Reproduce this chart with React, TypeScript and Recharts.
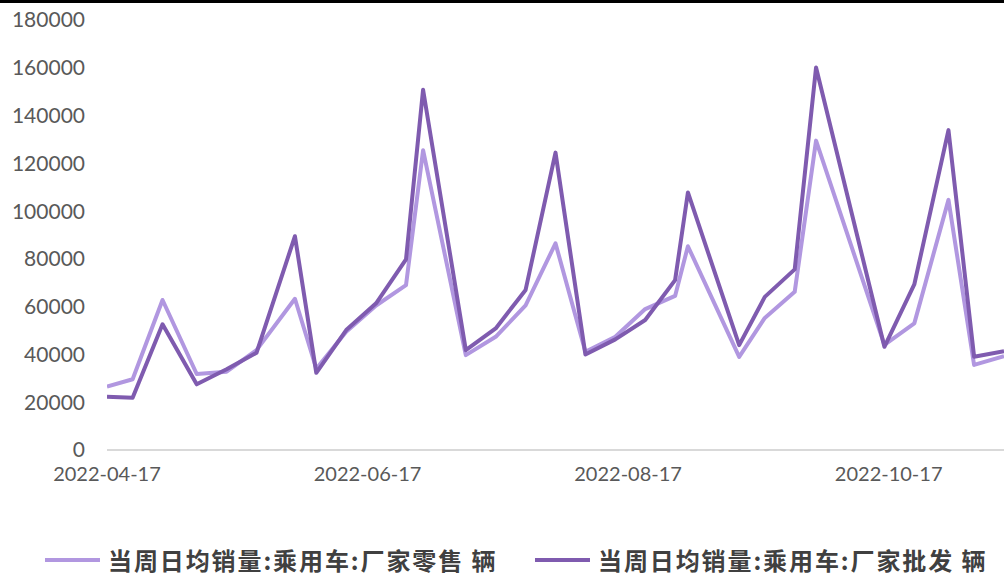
import { LineChart, Line, XAxis, YAxis } from "recharts";

// weekly period-end dates (CPCA style)
const dates = [
  "2022-04-17", "2022-04-23", "2022-04-30", "2022-05-08", "2022-05-15", "2022-05-22",
  "2022-05-31", "2022-06-05", "2022-06-12", "2022-06-19", "2022-06-26", "2022-06-30",
  "2022-07-10", "2022-07-17", "2022-07-24", "2022-07-31", "2022-08-07", "2022-08-14",
  "2022-08-21", "2022-08-28", "2022-08-31", "2022-09-12", "2022-09-18", "2022-09-25",
  "2022-09-30", "2022-10-16", "2022-10-23", "2022-10-31", "2022-11-06", "2022-11-13",
];

const retail = [
  26500, 29600, 62800, 31800, 32800, 41800, 63300, 34000, 49500, 60500, 69000, 125500,
  39700, 47400, 60500, 86500, 41100, 47400, 59000, 64500, 85300, 39000, 55300, 66200,
  129500, 44000, 53000, 104700, 35600, 39300,
];

const wholesale = [
  22300, 21900, 52600, 27500, 33800, 40700, 89500, 32300, 50200, 61400, 79800, 150800,
  41800, 50900, 67000, 124500, 40000, 46300, 54400, 71100, 107800, 43900, 64100, 75600,
  160100, 43200, 69300, 133900, 39000, 41300,
];

const yTicks = [0, 20000, 40000, 60000, 80000, 100000, 120000, 140000, 160000, 180000];
const xTicks = ["2022-04-17", "2022-06-17", "2022-08-17", "2022-10-17"];
const xStart = "2022-04-17";
const xEnd = "2022-11-13";

const series = [
  { key: "retail", name: "当周日均销量:乘用车:厂家零售 辆", color: "#B197E0" },
  { key: "wholesale", name: "当周日均销量:乘用车:厂家批发 辆", color: "#7F5BAF" },
];

const toTs = (s: string) =>
  Date.UTC(+s.slice(0, 4), +s.slice(5, 7) - 1, +s.slice(8, 10));
const fmt = (t: number) => new Date(t).toISOString().slice(0, 10);

const data = dates.map((d, i) => ({
  t: toTs(d),
  retail: retail[i],
  wholesale: wholesale[i],
}));

const xTickStyle = { fontFamily: "Lato", fontSize: 20, fill: "#595959" };
const yTickStyle = { fontFamily: "Lato", fontSize: 21, fill: "#595959" };

export default function App() {
  return (
    <div
      style={{
        position: "fixed",
        left: 0,
        top: 0,
        width: 1004,
        height: 578,
        background: "#fff",
        overflow: "hidden",
      }}
    >
      <div style={{ position: "absolute", left: 0, top: 0, width: 1004, height: 3, background: "#000" }} />
      <LineChart
        width={1004}
        height={578}
        data={data}
        margin={{ top: 20, right: 0, bottom: 88, left: 0 }}
      >
        <XAxis
          dataKey="t"
          type="number"
          domain={[toTs(xStart), toTs(xEnd)]}
          allowDataOverflow
          ticks={xTicks.map(toTs)}
          interval={0}
          tickFormatter={fmt}
          axisLine={{ stroke: "#D9D9D9", strokeWidth: 2 }}
          tickLine={false}
          tickSize={0}
          tickMargin={17}
          height={40}
          tick={xTickStyle}
        />
        <YAxis
          domain={[0, 180000]}
          ticks={yTicks}
          interval={0}
          axisLine={false}
          tickLine={false}
          tickSize={0}
          tickMargin={22}
          width={107}
          tick={yTickStyle}
        />
        {series.map((s) => (
          <Line
            key={s.key}
            type="linear"
            dataKey={s.key}
            name={s.name}
            stroke={s.color}
            strokeWidth={4}
            strokeLinejoin="round"
            dot={false}
            isAnimationActive={false}
          />
        ))}
      </LineChart>
      {series.map((s, i) => (
        <div
          key={s.key}
          style={{
            position: "absolute",
            top: 546,
            height: 28,
            left: i === 0 ? 45 : 535,
            display: "flex",
            alignItems: "center",
            gap: 8,
            fontFamily: "'Noto Sans CJK SC'",
            fontWeight: 700,
            fontSize: 24,
            lineHeight: "28px",
            letterSpacing: 1.9,
            color: "#404040",
            whiteSpace: "pre",
          }}
        >
          <span style={{ display: "inline-block", width: 55, height: 4, background: s.color }} />
          <span>{s.name}</span>
        </div>
      ))}
    </div>
  );
}
